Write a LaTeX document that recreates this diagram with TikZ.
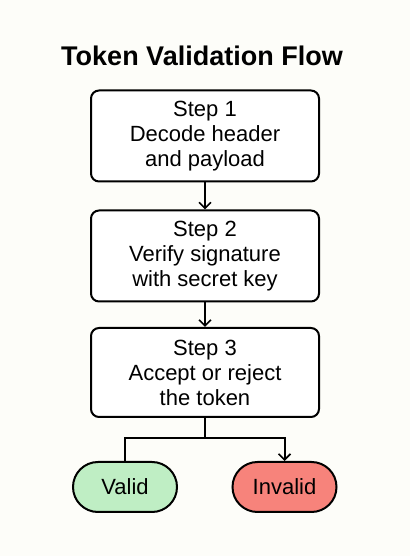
\documentclass[tikz,border=0pt]{standalone}
\usepackage{fontspec}
\setmainfont{Liberation Sans}
\usetikzlibrary{arrows.meta}
\definecolor{bgpaper}{HTML}{FDFDF9}
\definecolor{validfill}{HTML}{BFEEC4}
\definecolor{invalidfill}{HTML}{F7837B}
\tikzset{
  stepbox/.style={draw,line width=2pt,rounded corners=8pt,fill=white,minimum width=228pt,minimum height=91pt,align=center,font=\fontsize{22}{25}\selectfont,inner sep=0pt},
  endbox/.style={draw,line width=2pt,rounded corners=25pt,minimum width=104pt,minimum height=50pt,font=\fontsize{22}{24}\selectfont,inner sep=0pt},
  flow/.style={line width=2pt,-{Straight Barb[length=6pt,width=12pt,line width=1.6pt]}}
}
\begin{document}
\begin{tikzpicture}[x=1pt,y=1pt]
    \fill [bgpaper] (0,0) rectangle (410,556);
    \useasboundingbox (0,0) rectangle (410,556);
    \node (title) at (202,500) {\fontsize{27}{30}\selectfont\bfseries Token Validation Flow};
    \node [stepbox] (decode) at (205,420) {Step 1\\Decode header\\and payload};
    \node [stepbox] (verify) at (205,300) {Step 2\\Verify signature\\with secret key};
    \node [stepbox,minimum height=89pt] (accept) at (205,183.5) {Step 3\\Accept or reject\\the token};
    \node [endbox,fill=validfill] (valid) at (125,69) {Valid};
    \node [endbox,fill=invalidfill] (invalid) at (284.5,69) {Invalid};
    \draw [flow] (decode) -- (verify);
    \draw [flow] (verify) -- (accept);
    \coordinate (split) at ([yshift=-20pt]accept.south);
    \draw [line width=2pt] (accept) -- (split) -| (valid);
    \draw [flow] (split) -| (invalid);
\end{tikzpicture}
\end{document}
